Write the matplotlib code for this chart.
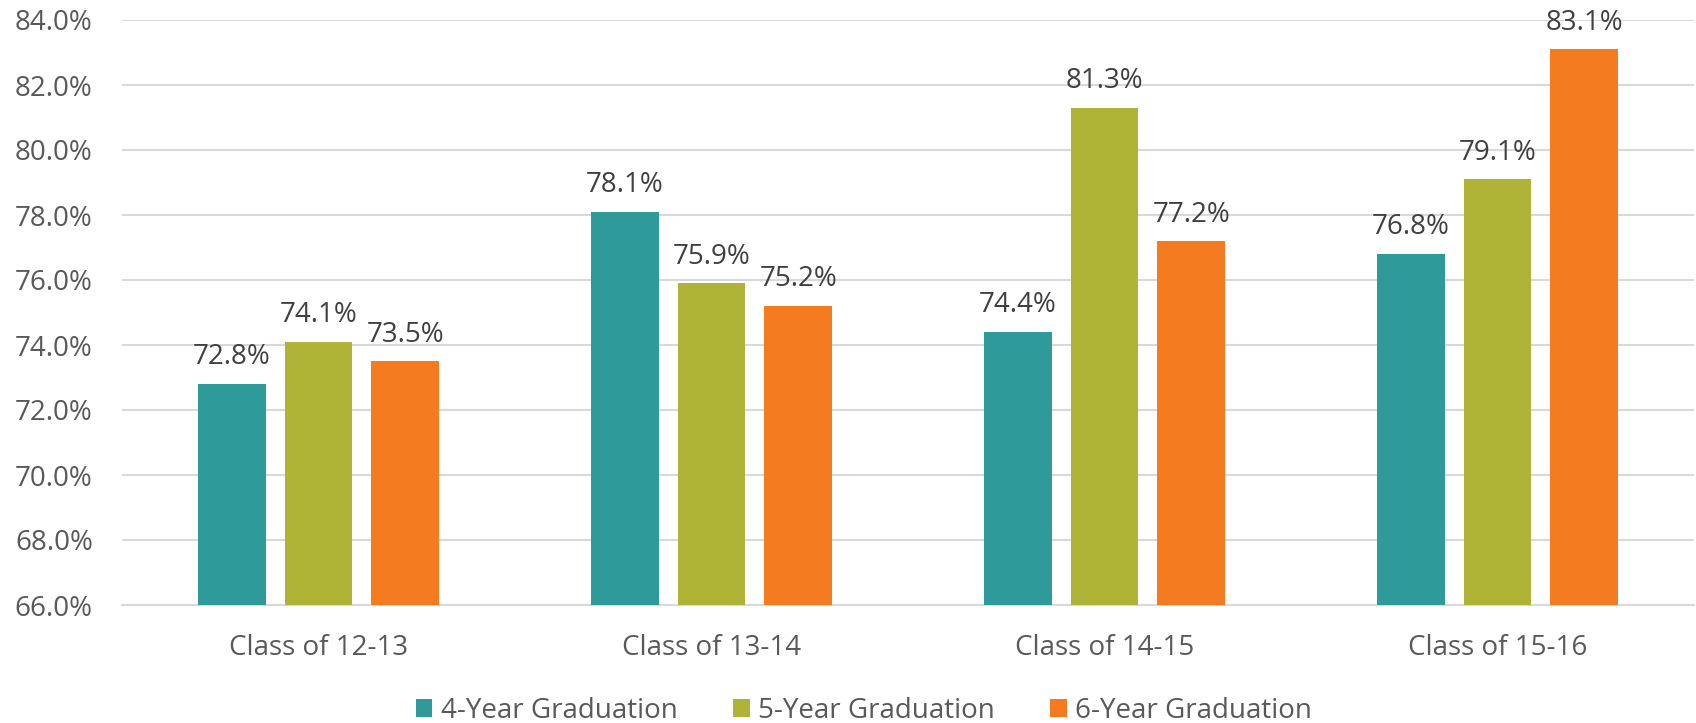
import matplotlib
matplotlib.use("Agg")
import matplotlib.pyplot as plt
import numpy as np
from matplotlib.ticker import FuncFormatter, MultipleLocator

categories = ["Class of 12-13", "Class of 13-14", "Class of 14-15", "Class of 15-16"]
series_names = ["4-Year Graduation", "5-Year Graduation", "6-Year Graduation"]
grad4 = [72.8, 78.1, 74.4, 76.8]
grad5 = [74.1, 75.9, 81.3, 79.1]
grad6 = [73.5, 75.2, 77.2, 83.1]
colors = ["#2E9B9A", "#AFB436", "#F47B20"]

plt.rcParams['font.family'] = ['Open Sans', 'DejaVu Sans']

fig = plt.figure(figsize=(16.96, 7.23), dpi=100)
ax = fig.add_axes([122/1696, 1-605/723, (1694-122)/1696, (605-20)/723])

x = np.arange(len(categories))
width = 0.173
step = 0.221
for i, (vals, name, c) in enumerate(zip([grad4, grad5, grad6], series_names, colors)):
    pos = x + (i - 1) * step
    ax.bar(pos, vals, width, color=c, label=name, zorder=3)
    for xp, v in zip(pos, vals):
        ax.annotate(f"{v:.1f}%", (xp, v), xytext=(0, 9), textcoords="offset points",
                    ha="center", va="bottom", fontsize=20, color="#404040")

ax.set_ylim(66, 84)
ax.set_xlim(-0.5, 3.5)
ax.yaxis.set_major_locator(MultipleLocator(2))
ax.yaxis.set_major_formatter(FuncFormatter(lambda v, p: f"{v:.1f}%"))
ax.grid(axis="y", color="#D9D9D9", linewidth=1.5, zorder=0)
for s in ["top", "right", "left"]:
    ax.spines[s].set_visible(False)
ax.spines["bottom"].set_color("#D9D9D9")
ax.spines["bottom"].set_linewidth(1.5)
ax.set_xticks(x)
ax.set_xticklabels(categories)
ax.tick_params(axis="both", length=0, labelsize=20, labelcolor="#595959")
ax.tick_params(axis="y", pad=21)
ax.tick_params(axis="x", pad=21)

fig.legend(loc="center", bbox_to_anchor=(864/1696, 1-711/723), ncol=3, frameon=False,
           fontsize=20, labelcolor="#595959", handlelength=0.6, handleheight=0.6,
           handletextpad=0.3, columnspacing=2.0)

fig.savefig("out.png", dpi=100)
